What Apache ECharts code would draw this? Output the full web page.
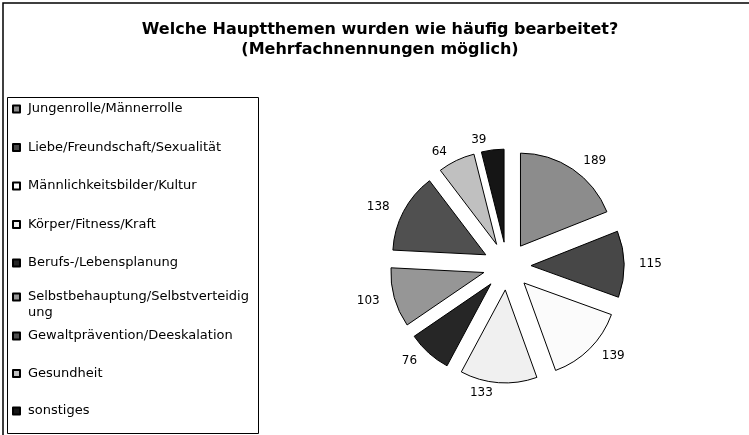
<!DOCTYPE html>
<html>
<head>
<meta charset="utf-8">
<script src="https://cdn.jsdelivr.net/npm/echarts@6/dist/echarts.min.js"></script>
<style>
  html, body { margin: 0; padding: 0; background: #fff; }
  #main { width: 749px; height: 435px; }
</style>
</head>
<body>
<div id="main"></div>
<script>
var themes = [
  'Jungenrolle/Männerrolle',
  'Liebe/Freundschaft/Sexualität',
  'Männlichkeitsbilder/Kultur',
  'Körper/Fitness/Kraft',
  'Berufs-/Lebensplanung',
  'Selbstbehauptung/Selbstverteidigung',
  'Gewaltprävention/Deeskalation',
  'Gesundheit',
  'sonstiges'
]
var counts = [189, 115, 139, 133, 76, 103, 138, 64, 39]
var greys = ['#8c8c8c', '#474747', '#fbfbfb', '#f0f0f0', '#262626', '#969696', '#505050', '#c0c0c0', '#151515']

var FONT = 'DejaVu Sans, Liberation Sans, sans-serif'

var pieData = []
for (var i = 0; i < themes.length; i++) {
  pieData.push({
    name: themes[i],
    value: counts[i],
    selected: true,
    itemStyle: { color: greys[i] }
  })
}

// legende in drei Bloecke, damit der Umbruch bei "Selbstverteidig-ung" wie im Original sitzt
function legendBlock(names, top, gap, extra) {
  var lg = {
    orient: 'vertical',
    left: 12,
    top: top,
    padding: 0,
    itemWidth: 7,
    itemHeight: 7,
    itemGap: gap,
    icon: 'rect',
    selectedMode: false,
    textStyle: { fontSize: 13, lineHeight: 16, color: '#000', fontFamily: FONT, padding: [0, 0, 0, 3] },
    data: names
  }
  if (extra) {
    // leere erste Zeile, damit das Symbol auf der ersten Textzeile steht
    lg.formatter = function (name) {
      return '\nSelbstbehauptung/Selbstverteidig\nung'
    }
  }
  return lg
}

var chart = echarts.init(document.getElementById('main'))
chart.setOption({
  animation: false,
  textStyle: { fontFamily: FONT },
  title: {
    text: 'Welche Hauptthemen wurden wie häufig bearbeitet?\n(Mehrfachnennungen möglich)',
    left: 380,
    textAlign: 'center',
    top: 20,
    padding: 0,
    textStyle: {
      fontSize: 16,
      fontWeight: 'bold',
      color: '#000',
      lineHeight: 20,
      fontFamily: FONT
    }
  },
  graphic: [
    {
      type: 'rect',
      shape: { x: 3, y: 3, width: 800, height: 500 },
      style: { fill: 'none', stroke: '#000', lineWidth: 1.5 },
      z: -1
    },
    {
      type: 'rect',
      shape: { x: 7.5, y: 97.5, width: 251, height: 336 },
      style: { fill: '#fff', stroke: '#000', lineWidth: 1 },
      z: -1
    }
  ],
  legend: [
    legendBlock(themes.slice(0, 5), 101, 22.5),
    legendBlock(themes.slice(5, 6), 273, 0, true),
    legendBlock(themes.slice(6), 328, 21.5)
  ],
  series: [{
    type: 'pie',
    center: [507, 266],
    radius: [0, 93],
    startAngle: 90,
    clockwise: true,
    selectedMode: 'multiple',
    selectedOffset: 24,
    avoidLabelOverlap: false,
    itemStyle: { borderColor: '#000', borderWidth: 1 },
    emphasis: { disabled: true },
    label: {
      show: true,
      position: 'outside',
      formatter: '{c}',
      fontSize: 12,
      color: '#000',
      fontFamily: FONT
    },
    labelLine: { show: false, length: 10, length2: 0 },
    data: pieData
  }]
})
</script>
</body>
</html>
